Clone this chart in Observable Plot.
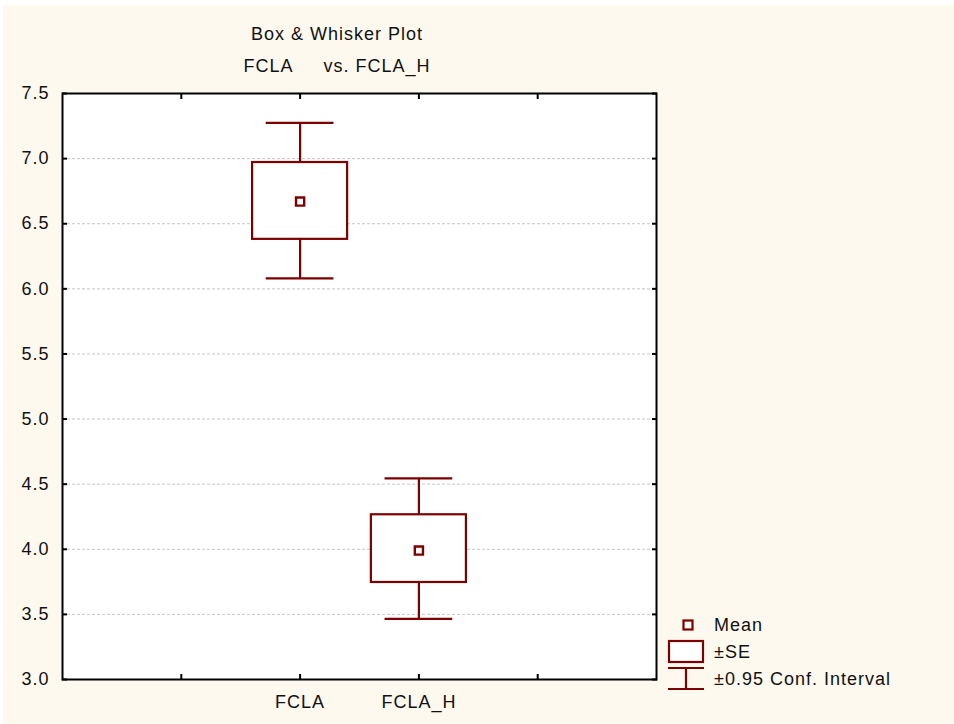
<!DOCTYPE html>
<html>
<head>
<meta charset="utf-8">
<script src="https://cdn.jsdelivr.net/npm/d3@7"></script>
<script src="https://cdn.jsdelivr.net/npm/@observablehq/plot@0.6"></script>
<style>
  html, body { margin: 0; padding: 0; background: #ffffff; }
  #wrap { position: relative; width: 954px; height: 724px; overflow: hidden; font-family: "Liberation Sans", Arial, sans-serif; color: #111; }
  #bg { position: absolute; left: 3px; top: 5px; right: 0; bottom: 0; background: #fdf9ef; }
  #chart { position: absolute; left: 0; top: 0; }
  .title { position: absolute; left: 0; width: 674px; text-align: center; font-size: 18px; line-height: 20px; letter-spacing: 1px; }
  #legend { position: absolute; left: 0; top: 0; }
  svg text { letter-spacing: 1px; }
</style>
</head>
<body>
<div id="wrap">
  <div id="bg"></div>
  <div id="chart"></div>
  <div class="title" style="top:24px;">Box &amp; Whisker Plot</div>
  <div class="title" style="top:56px;">FCLA&nbsp;&nbsp;&nbsp;&nbsp;&nbsp;vs. FCLA_H</div>
  <svg id="legend" width="954" height="724"></svg>
</div>
<script>
// ---- data ----
const categories = ["FCLA", "FCLA_H"];
const means  = [6.67, 3.99];
const seLow  = [6.38, 3.745];
const seHigh = [6.97, 4.265];
const ciLow  = [6.08, 3.465];
const ciHigh = [7.275, 4.545];
const yTicks = [3.0, 3.5, 4.0, 4.5, 5.0, 5.5, 6.0, 6.5, 7.0, 7.5];
const xTickPositions = [1, 2, 3, 4];
const xTickLabels = ["", "FCLA", "FCLA_H", ""];
const legendLabels = ["Mean", "±SE", "±0.95 Conf. Interval"];

const red = "#7d0000";
const boxHalf = 0.4, capHalf = 0.285;

const data = categories.map((c, i) => ({
  cat: c,
  pos: xTickPositions[xTickLabels.indexOf(c)],
  mean: means[i], seLow: seLow[i], seHigh: seHigh[i], ciLow: ciLow[i], ciHigh: ciHigh[i]
}));

const chart = Plot.plot({
  width: 954,
  height: 724,
  marginLeft: 62,
  marginRight: 298,
  marginTop: 93,
  marginBottom: 45,
  style: { fontFamily: "Liberation Sans, Arial, sans-serif", fontSize: "18px", background: "transparent", color: "#111", overflow: "visible" },
  x: { domain: [0, 5] },
  y: { domain: [3, 7.5] },
  marks: [
    Plot.frame({ fill: "white" }),
    Plot.ruleY(yTicks.slice(1, -1), { stroke: "#c6c6c6", strokeDasharray: "3,2", strokeWidth: 1 }),
    Plot.ruleX(data, { x: "pos", y1: "ciLow", y2: "seLow", stroke: red, strokeWidth: 2.2 }),
    Plot.ruleX(data, { x: "pos", y1: "seHigh", y2: "ciHigh", stroke: red, strokeWidth: 2.2 }),
    Plot.ruleY(data, { y: "ciLow", x1: d => d.pos - capHalf, x2: d => d.pos + capHalf, stroke: red, strokeWidth: 2.2 }),
    Plot.ruleY(data, { y: "ciHigh", x1: d => d.pos - capHalf, x2: d => d.pos + capHalf, stroke: red, strokeWidth: 2.2 }),
    Plot.rect(data, { x1: d => d.pos - boxHalf, x2: d => d.pos + boxHalf, y1: "seLow", y2: "seHigh", fill: "white", stroke: red, strokeWidth: 2.2 }),
    Plot.dot(data, { x: "pos", y: "mean", symbol: "square", r: 4.6, stroke: red, strokeWidth: 2.4, fill: "white" }),
    Plot.frame({ stroke: "#000", strokeWidth: 2 }),
    Plot.axisX(xTickPositions, { anchor: "bottom", tickSize: -5, tickPadding: 21, strokeWidth: 2, stroke: "#000",
      tickFormat: d => xTickLabels[xTickPositions.indexOf(d)], fontSize: 18, label: null }),
    Plot.axisX(xTickPositions, { anchor: "top", tickSize: -5, strokeWidth: 2, stroke: "#000", tickFormat: () => "", label: null }),
    Plot.axisY(yTicks, { anchor: "left", tickSize: -5, tickPadding: 18, strokeWidth: 2, stroke: "#000",
      tickFormat: d3.format(".1f"), fontSize: 18, label: null }),
    Plot.axisY(yTicks, { anchor: "right", tickSize: -5, strokeWidth: 2, stroke: "#000", tickFormat: () => "", label: null })
  ]
});
document.getElementById("chart").appendChild(chart);

// ---- legend ----
const lg = d3.select("#legend");
const lx = 714;
const rows = [625, 652, 679];
// Mean marker
lg.append("rect").attr("x", 683.5).attr("y", rows[0] - 4.5).attr("width", 9).attr("height", 9)
  .attr("fill", "white").attr("stroke", red).attr("stroke-width", 2.2);
// SE box
lg.append("rect").attr("x", 669).attr("y", 641).attr("width", 34).attr("height", 21)
  .attr("fill", "white").attr("stroke", red).attr("stroke-width", 2.2);
// CI symbol
lg.append("line").attr("x1", 668).attr("x2", 704).attr("y1", 668).attr("y2", 668).attr("stroke", red).attr("stroke-width", 2.2);
lg.append("line").attr("x1", 668).attr("x2", 704).attr("y1", 689).attr("y2", 689).attr("stroke", red).attr("stroke-width", 2.2);
lg.append("line").attr("x1", 686).attr("x2", 686).attr("y1", 668).attr("y2", 689).attr("stroke", red).attr("stroke-width", 2.2);
legendLabels.forEach((t, i) => {
  lg.append("text").attr("x", lx).attr("y", rows[i]).attr("dy", "0.35em")
    .attr("font-family", "Liberation Sans, Arial, sans-serif").attr("font-size", 18).attr("fill", "#111").text(t);
});
</script>
</body>
</html>
